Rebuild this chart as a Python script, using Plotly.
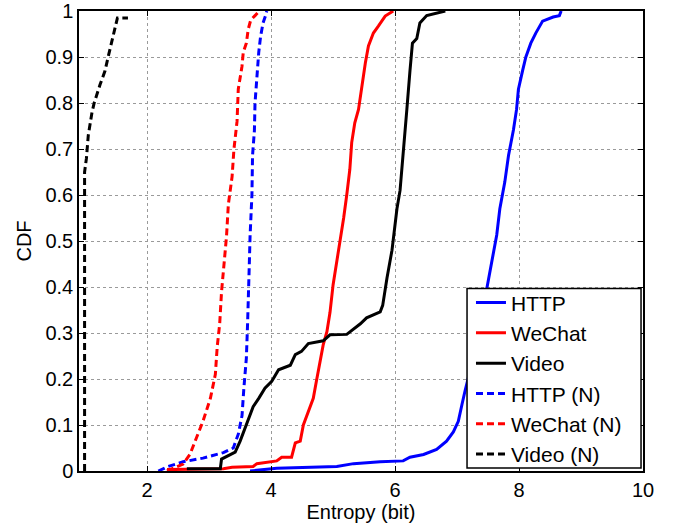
import plotly.graph_objects as go

# ---- data (Entropy in bits, CDF) ----
http_x = [3.66, 4.09, 5.06, 5.33, 5.76, 6.13, 6.24, 6.46, 6.67, 6.83, 6.94, 7.02, 7.08, 7.13,
          7.26, 7.40, 7.48, 7.56, 7.64, 7.69, 7.77, 7.83, 7.91, 7.96, 7.99, 8.06, 8.11, 8.19,
          8.27, 8.38, 8.55, 8.65, 8.68]
http_y = [0.0, 0.006, 0.01, 0.016, 0.02, 0.022, 0.03, 0.036, 0.047, 0.065, 0.085, 0.108, 0.145,
          0.175, 0.245, 0.325, 0.397, 0.455, 0.513, 0.57, 0.628, 0.686, 0.742, 0.786, 0.83,
          0.872, 0.90, 0.93, 0.952, 0.978, 0.987, 0.99, 1.0]

wechat_x = [2.32, 2.64, 3.23, 3.37, 3.71, 3.77, 4.09, 4.17, 4.33, 4.39, 4.47, 4.52, 4.60, 4.68,
            4.73, 4.79, 4.84, 4.90, 4.95, 5.00, 5.06, 5.11, 5.17, 5.22, 5.27, 5.30, 5.35, 5.41,
            5.46, 5.52, 5.57, 5.65, 5.73, 5.84, 5.97]
wechat_y = [0.003, 0.004, 0.005, 0.008, 0.01, 0.016, 0.022, 0.03, 0.03, 0.061, 0.065, 0.10, 0.13,
            0.158, 0.195, 0.238, 0.274, 0.303, 0.345, 0.405, 0.455, 0.50, 0.55, 0.60, 0.656,
            0.714, 0.757, 0.786, 0.837, 0.887, 0.924, 0.952, 0.967, 0.989, 1.0]

video_x = [2.64, 3.18, 3.20, 3.28, 3.42, 3.50, 3.58, 3.63, 3.71, 3.80, 3.90, 4.01, 4.12, 4.31,
           4.39, 4.49, 4.60, 4.84, 4.95, 5.22, 5.32, 5.44, 5.54, 5.70, 5.76, 5.80, 5.83, 5.87,
           5.95, 6.03, 6.08, 6.13, 6.19, 6.24, 6.28, 6.35, 6.40, 6.51, 6.81]
video_y = [0.005, 0.005, 0.026, 0.032, 0.041, 0.065, 0.093, 0.115, 0.14, 0.158, 0.18, 0.195,
           0.22, 0.23, 0.253, 0.26, 0.277, 0.283, 0.296, 0.297, 0.307, 0.32, 0.333, 0.342,
           0.346, 0.36, 0.39, 0.42, 0.48, 0.57, 0.61, 0.70, 0.786, 0.87, 0.93, 0.94, 0.974,
           0.99, 1.0]

httpn_x = [2.18, 2.34, 2.58, 2.90, 3.23, 3.39, 3.47, 3.53, 3.56, 3.60, 3.62, 3.63, 3.65, 3.66,
           3.69, 3.70, 3.73, 3.74, 3.77, 3.80, 3.83, 3.87, 3.91, 3.93]
httpn_y = [0.0, 0.01, 0.02, 0.028, 0.04, 0.05, 0.08, 0.12, 0.18, 0.245, 0.32, 0.39, 0.46, 0.51,
           0.60, 0.686, 0.74, 0.80, 0.86, 0.91, 0.945, 0.974, 0.99, 1.0]

wechatn_x = [2.32, 2.58, 2.69, 2.77, 2.90, 3.02, 3.10, 3.13, 3.17, 3.20, 3.24, 3.28, 3.31, 3.37,
             3.40, 3.45, 3.47, 3.53, 3.55, 3.60, 3.63, 3.67, 3.74, 3.81]
wechatn_y = [0.0, 0.015, 0.036, 0.065, 0.108, 0.158, 0.21, 0.27, 0.32, 0.39, 0.455, 0.51, 0.58,
             0.64, 0.70, 0.76, 0.83, 0.88, 0.91, 0.93, 0.96, 0.98, 0.99, 1.0]

videon_x = [0.99, 0.99, 1.02, 1.05, 1.11, 1.145, 1.24, 1.32, 1.37, 1.42, 1.47, 1.52, 1.69]
videon_y = [0.0, 0.65, 0.68, 0.73, 0.78, 0.80, 0.84, 0.87, 0.90, 0.93, 0.96, 0.985, 0.985]

series = [
    ("HTTP", http_x, http_y, "#0000FF", "solid"),
    ("WeChat", wechat_x, wechat_y, "#FF0000", "solid"),
    ("Video", video_x, video_y, "#000000", "solid"),
    ("HTTP (N)", httpn_x, httpn_y, "#0000FF", "7px,4px"),
    ("WeChat (N)", wechatn_x, wechatn_y, "#FF0000", "7px,4px"),
    ("Video (N)", videon_x, videon_y, "#000000", "7px,4px"),
]

x_ticks = [2, 4, 6, 8, 10]
y_ticks = [0, 0.1, 0.2, 0.3, 0.4, 0.5, 0.6, 0.7, 0.8, 0.9, 1]

FONT = "Liberation Sans, Arial, Helvetica, sans-serif"

fig = go.Figure()
for name, xs, ys, col, dash in series:
    fig.add_trace(go.Scatter(x=xs, y=ys, mode="lines", name=name,
                             line=dict(color=col, width=3, dash=dash)))

axis_common = dict(
    showline=True, linecolor="black", linewidth=1.5, mirror="ticks",
    ticks="inside", ticklen=5, tickwidth=1, tickcolor="black",
    showgrid=True, gridcolor="#9a9a9a", griddash="dot", gridwidth=1,
    zeroline=False, tickfont=dict(family=FONT, size=20, color="black"),
    ticklabeloverflow="allow", automargin=False,
)

fig.update_xaxes(range=[0.9, 10], tickvals=x_ticks,
                 title=dict(text="Entropy (bit)", font=dict(family=FONT, size=20, color="black"),
                            standoff=4),
                 **axis_common)
fig.update_yaxes(range=[0, 1], tickvals=y_ticks,
                 title=dict(text="CDF", font=dict(family=FONT, size=20, color="black"),
                            standoff=8),
                 **axis_common)

# legend frame (drawn as a shape so its padding matches the reference)
fig.add_shape(type="rect", xref="paper", yref="paper",
              x0=0.688, x1=0.9965, y0=0.0065, y1=0.397,
              line=dict(color="black", width=1.5), fillcolor="white", layer="above")

fig.update_layout(
    width=674, height=526,
    margin=dict(l=79, r=31, t=11, b=55, autoexpand=False),
    plot_bgcolor="white", paper_bgcolor="white",
    font=dict(family=FONT, color="black"),
    legend=dict(x=0.695, y=0.41, xanchor="left", yanchor="top",
                bgcolor="rgba(0,0,0,0)", borderwidth=0,
                font=dict(family=FONT, size=21, color="black"),
                itemwidth=30, tracegroupgap=0),
    showlegend=True,
)

fig.write_html("out.html")
